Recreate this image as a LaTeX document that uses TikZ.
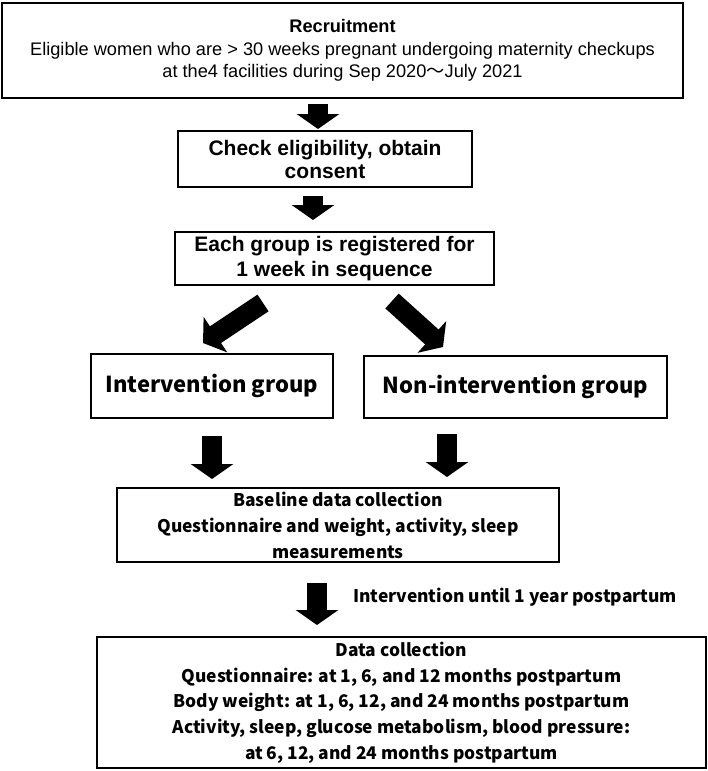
\documentclass[tikz,border=0pt]{standalone}
\usepackage{fontspec}
\setmainfont{Liberation Sans}
\newfontfamily\gothic{Noto Sans CJK JP}
\usetikzlibrary{arrows.meta,positioning}

\tikzset{
  box/.style={draw, line width=2pt, align=center, inner sep=2pt},
  gothicbox/.style={box, font={\gothic\bfseries\fontsize{17.4}{26}\selectfont}},
  blockarrow/.style={line width=20pt, -{Triangle[width=42pt, length=15pt]}},
}

\begin{document}
\begin{tikzpicture}[x=1pt, y=-1pt]
  \useasboundingbox (0,0) rectangle (708,771);

  % Recruitment and registration
  \node (rec) [box, minimum width=681pt, minimum height=95pt, font={\fontsize{18.2}{22.5}\selectfont}] at (342.5,50.5)
    {\textbf{Recruitment}\\Eligible women who are > 30 weeks pregnant undergoing maternity checkups\\at the4 facilities during Sep 2020{\gothic ～}July 2021};
  \node (chk) [box, minimum width=294pt, minimum height=56pt, font={\bfseries\fontsize{21}{23}\selectfont}] at (325,159)
    {Check eligibility, obtain\\consent};
  \node (reg) [box, minimum width=319pt, minimum height=53pt, font={\bfseries\fontsize{21}{25}\selectfont}] at (334.5,258.5)
    {Each group is registered for\\1 week in sequence};

  % Groups
  \node (intv) [box, minimum width=242pt, minimum height=64pt, font={\gothic\bfseries\fontsize{22}{26}\selectfont}] at (212,386)
    {Intervention group};
  \node (nonint) [box, minimum width=303pt, minimum height=62pt, font={\gothic\bfseries\fontsize{22}{26}\selectfont}] at (515.5,387)
    {Non-intervention group};

  % Data collection
  \node (base) [gothicbox, minimum width=442pt, minimum height=74pt] at (338,525)
    {Baseline data collection\\Questionnaire and weight, activity, sleep\\measurements};
  \node (data) [gothicbox, minimum width=609pt, minimum height=131pt, font={\gothic\bfseries\fontsize{17.4}{25.7}\selectfont}] at (401.5,702.5)
    {Data collection\\Questionnaire: at 1, 6, and 12 months postpartum\\Body weight: at 1, 6, 12, and 24 months postpartum\\Activity, sleep, glucose metabolism, blood pressure:\\at 6, 12, and 24 months postpartum};
  \node (until) [anchor=west, inner sep=0pt, font={\gothic\bfseries\fontsize{17.4}{20}\selectfont}] at (353,597)
    {Intervention until 1 year postpartum};

  % Block arrows
  \draw[blockarrow] ([xshift=-24.5pt,yshift=-5pt]rec.south) -- ([xshift=-7pt,yshift=1pt]chk.north);
  \draw[blockarrow] ([xshift=-12pt,yshift=-8pt]chk.south) -- ([xshift=-21.5pt,yshift=11pt]reg.north);
  \draw[blockarrow] ([xshift=-71.5pt,yshift=-17pt]reg.south) -- ([xshift=-9pt,yshift=10pt]intv.north);
  \draw[blockarrow] ([xshift=57.5pt,yshift=-15pt]reg.south) -- ([xshift=-72.5pt,yshift=8pt]nonint.north);
  \draw[blockarrow] ([yshift=-17pt]intv.south) -- ([xshift=-126pt,yshift=8pt]base.north);
  \draw[blockarrow] ([xshift=-68.5pt,yshift=-15pt]nonint.south) -- ([xshift=109pt,yshift=10pt]base.north);
  \draw[blockarrow] ([xshift=-21pt,yshift=-20pt]base.south) -- ([xshift=-84.5pt,yshift=11pt]data.north);

\end{tikzpicture}
\end{document}
